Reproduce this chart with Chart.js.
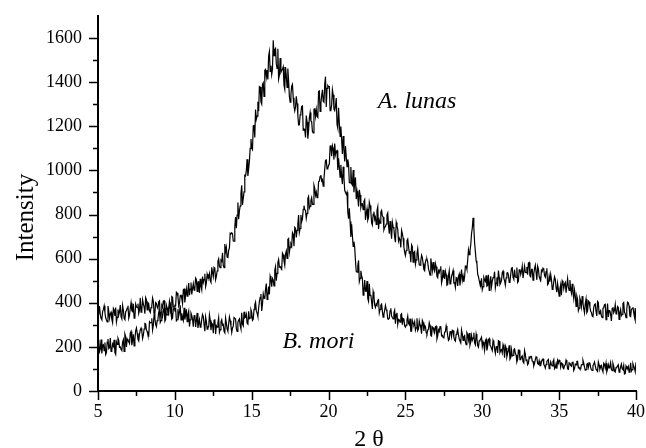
<!DOCTYPE html>
<html>
<head>
<meta charset="utf-8">
<script src="https://cdn.jsdelivr.net/npm/chart.js@4.4.1/dist/chart.umd.min.js"></script>
<style>
  html, body { margin: 0; padding: 0; background: #fff; }
  #wrap { width: 646px; height: 448px; }
</style>
</head>
<body>
<div id="wrap"><canvas id="xrd" width="646" height="448"></canvas></div>
<script>
// scan grid: 5 to 40 degrees, 0.05 degree step
const startAngle = 5;
const stepAngle = 0.05;

// A. lunas intensities (5.00 .. 40.00)
const aLunas = [
  217,232,179,190,233,170,207,210,183,220,165,174,222,236,192,196,240,179,185,213,
  203,232,174,166,222,211,239,229,198,200,188,183,222,233,180,259,247,200,236,229,
  225,216,262,270,208,229,257,204,234,273,286,262,235,227,258,277,285,271,238,254,
  281,306,304,277,270,253,250,314,309,310,330,276,298,347,330,302,292,319,326,357,
  365,311,319,348,338,366,377,317,324,388,375,361,350,387,395,353,428,425,381,380,
  388,386,448,444,428,385,396,432,434,419,396,459,462,401,436,463,430,458,489,434,
  462,492,438,464,486,457,464,512,506,451,494,495,445,509,475,458,519,492,506,531,
  473,489,530,516,513,532,500,492,561,537,518,560,555,505,520,544,588,599,565,559,
  593,588,627,570,559,666,632,651,607,605,637,649,715,712,717,713,680,679,742,789,
  738,797,854,779,816,839,895,933,844,874,903,978,976,999,1051,975,1007,1042,1100,1142,
  1100,1094,1202,1204,1149,1276,1232,1246,1311,1268,1380,1378,1311,1301,1390,1397,1336,1454,1458,1424,
  1455,1412,1518,1538,1449,1475,1434,1458,1590,1520,1547,1553,1484,1463,1551,1414,1432,1509,1445,1454,
  1458,1469,1386,1368,1469,1429,1376,1462,1406,1335,1309,1344,1382,1390,1329,1291,1270,1288,1336,1303,
  1250,1206,1207,1252,1262,1290,1292,1182,1188,1186,1149,1249,1220,1144,1181,1237,1262,1224,1221,1176,
  1170,1278,1279,1245,1276,1244,1240,1358,1360,1267,1303,1338,1365,1313,1309,1391,1425,1288,1372,1385,
  1380,1380,1271,1273,1297,1366,1343,1278,1271,1293,1328,1209,1192,1284,1212,1154,1199,1139,1074,1156,
  1097,1041,1111,1061,1017,1050,1028,945,943,1015,939,933,1002,901,947,968,870,906,879,837,
  912,889,832,848,849,822,860,868,775,804,826,775,786,856,841,814,762,752,801,813,
  777,788,755,818,835,734,774,761,811,819,793,789,731,742,745,757,798,807,752,713,
  770,729,690,765,744,735,697,675,764,748,733,680,693,685,651,728,713,693,654,630,
  614,637,682,689,656,627,630,584,662,654,584,628,632,574,594,622,645,603,572,570,
  588,616,606,578,550,545,584,597,598,584,555,541,525,601,574,545,585,551,542,578,
  563,520,514,545,537,551,565,490,507,549,514,511,543,527,480,483,521,545,486,490,
  521,532,546,490,491,470,514,510,476,520,530,479,515,551,502,521,495,517,567,566,
  552,594,640,618,635,663,713,739,785,740,672,632,590,578,530,518,500,484,478,511,
  459,473,515,504,497,524,475,478,527,456,489,520,473,497,514,516,541,468,489,515,
  475,546,515,483,491,501,537,543,511,500,480,513,535,537,525,492,495,528,557,559,
  515,506,550,518,515,560,492,498,549,552,528,543,566,512,512,566,538,537,562,527,
  580,583,522,518,551,551,502,531,556,571,537,504,566,554,518,508,501,547,542,557,
  552,523,516,541,556,482,487,520,496,529,505,461,466,495,518,506,467,448,488,460,
  430,463,482,434,500,492,464,485,492,446,446,509,472,456,503,463,444,486,444,418,
  458,432,384,430,415,364,376,421,408,382,430,398,373,354,395,417,355,362,408,404,
  381,361,356,340,337,379,392,395,360,340,406,401,349,359,365,340,333,374,378,391,
  393,323,349,396,336,364,365,346,318,374,380,355,365,392,350,355,383,379,325,356,
  370,342,348,397,401,357,350,333,373,403,400,385,340,337,370,374,380,356,335,376,
  305
];

// B. mori intensities (5.00 .. 40.00)
const bMori = [
  350,384,382,346,330,323,360,370,386,356,332,322,313,385,362,329,349,357,324,309,
  375,368,340,378,313,334,370,345,359,390,336,327,388,366,330,324,360,364,376,387,
  330,344,375,400,364,360,395,330,334,394,382,378,396,352,367,422,357,369,414,395,
  380,350,423,414,368,401,396,363,356,378,386,422,407,354,351,401,398,381,374,405,
  409,339,356,389,381,407,409,356,359,346,345,375,375,407,384,353,326,331,371,376,
  368,373,318,323,371,340,357,389,322,352,332,319,377,324,344,370,314,347,362,292,
  323,353,343,325,292,341,344,290,319,354,286,307,324,290,294,326,347,337,302,271,
  336,316,280,291,291,345,321,276,308,303,262,320,325,258,296,290,309,332,266,278,
  313,323,299,302,271,264,331,308,281,271,305,336,319,294,265,286,295,333,333,326,
  283,270,311,321,327,296,281,355,303,295,359,332,335,348,307,303,361,328,331,368,
  356,320,325,370,392,403,362,353,338,375,406,424,440,363,394,440,421,420,462,487,
  415,433,473,438,521,507,473,510,503,476,547,564,500,533,582,596,562,564,557,552,
  625,618,590,570,621,635,601,687,691,629,652,666,656,718,710,656,742,738,696,728,
  756,798,719,737,798,767,779,824,840,821,819,783,805,873,882,829,838,863,876,846,
  846,933,919,887,902,877,881,949,951,972,979,952,958,929,962,1006,1045,1047,1007,1009,
  1023,1029,1109,1114,1064,1112,1099,1049,1122,1072,1087,1090,1002,1055,1016,969,1025,971,938,1017,
  969,910,900,892,901,812,781,828,768,698,756,704,656,677,651,590,542,539,566,592,
  496,511,545,522,510,434,454,503,453,453,498,419,407,486,433,436,405,372,450,432,
  390,379,395,389,411,414,354,370,389,394,362,335,347,366,388,370,360,327,325,330,
  363,375,340,333,327,354,366,305,348,355,302,325,322,312,346,350,301,329,326,296,
  290,299,322,340,307,301,328,271,271,319,306,301,314,275,286,330,274,282,318,300,
  286,260,320,311,272,298,293,265,258,275,281,310,297,252,249,290,287,272,266,291,
  294,236,250,277,270,292,293,250,252,242,241,267,268,295,277,251,229,234,268,272,
  247,276,274,245,231,226,257,266,279,255,235,226,218,277,258,229,246,251,224,210,
  265,257,233,263,208,223,252,230,240,264,218,209,258,238,206,199,227,229,237,244,
  202,222,210,184,228,235,184,202,232,237,207,203,192,183,229,218,191,171,200,204,
  173,228,225,175,185,188,173,210,197,151,205,195,156,172,183,207,144,151,187,159,
  161,187,191,172,163,132,142,185,185,142,142,155,159,132,127,183,167,138,143,119,
  125,154,151,157,156,136,134,114,125,142,155,151,125,121,137,115,115,134,142,145,
  121,115,104,121,134,139,143,101,113,132,119,114,133,142,101,106,123,101,138,126,
  140,135,108,127,124,105,101,114,119,140,131,100,98,128,126,116,112,130,133,93,
  102,122,118,134,135,105,107,100,100,119,120,139,126,108,94,97,121,124,107,128,
  126,106,97,93,115,121,131,114,99,94,89,131,118,99,110,115,96,87,126,121,
  104,126,87,99,120,105,112,129,98,92,126,113,90,86,106,108,114,119,85,92,
  109,122,101,97,116,77,79,113,104,101,111,86,95,128,90,97,124,113,104,88,
  130
];

const yMajor = [0, 200, 400, 600, 800, 1000, 1200, 1400, 1600];
const yMinor = [100, 300, 500, 700, 900, 1100, 1300, 1500];
const xMajor = [5, 10, 15, 20, 25, 30, 35, 40];
const xMinor = [7.5, 12.5, 17.5, 22.5, 27.5, 32.5, 37.5];

const twoTheta = aLunas.map((v, i) => +(startAngle + i * stepAngle).toFixed(2));

const serif = '"Liberation Serif", "Times New Roman", serif';

// ticks pointing outward, axis titles, labels for the two samples
const decor = {
  id: 'decor',
  afterDraw(chart) {
    const c = chart.ctx;
    const x = chart.scales.x, y = chart.scales.y;
    c.save();
    c.strokeStyle = '#000';
    c.lineWidth = 1.5;
    c.beginPath();
    yMajor.forEach(v => { const p = Math.round(y.getPixelForValue(v)) + 0.5; c.moveTo(x.left - 9, p); c.lineTo(x.left, p); });
    yMinor.forEach(v => { const p = Math.round(y.getPixelForValue(v)) + 0.5; c.moveTo(x.left - 5, p); c.lineTo(x.left, p); });
    xMajor.forEach(v => { const p = Math.round(x.getPixelForValue(v)) + 0.5; c.moveTo(p, y.bottom); c.lineTo(p, y.bottom + 9); });
    xMinor.forEach(v => { const p = Math.round(x.getPixelForValue(v)) + 0.5; c.moveTo(p, y.bottom); c.lineTo(p, y.bottom + 5); });
    c.stroke();

    c.fillStyle = '#000';
    c.textBaseline = 'alphabetic';

    // axis titles
    c.font = '24px ' + serif;
    c.textAlign = 'center';
    c.fillText('2 θ', (x.left + x.right) / 2 + 2, 446);
    c.save();
    c.translate(33, (y.top + y.bottom) / 2 + 14);
    c.rotate(-Math.PI / 2);
    c.font = '25px ' + serif;
    c.fillText('Intensity', 0, 0);
    c.restore();

    c.textAlign = 'left';
    c.font = 'italic 24px ' + serif;
    c.fillText('A. lunas', x.getPixelForValue(23.2), y.getPixelForValue(1283));
    c.fillText('B. mori', x.getPixelForValue(17.0), y.getPixelForValue(195));
    c.restore();
  }
};

new Chart(document.getElementById('xrd'), {
  type: 'line',
  data: {
    datasets: [
      {
        label: 'A. lunas',
        data: twoTheta.map((t, i) => ({ x: t, y: aLunas[i] })),
        borderColor: '#000',
        borderWidth: 1.2,
        pointRadius: 0,
        tension: 0
      },
      {
        label: 'B. mori',
        data: twoTheta.map((t, i) => ({ x: t, y: bMori[i] })),
        borderColor: '#000',
        borderWidth: 1.2,
        pointRadius: 0,
        tension: 0
      }
    ]
  },
  options: {
    responsive: false,
    animation: false,
    layout: { padding: { top: 16, right: 10, left: 0, bottom: 0 } },
    plugins: { legend: { display: false }, tooltip: { enabled: false } },
    scales: {
      x: {
        type: 'linear',
        min: 5,
        max: 40,
        afterFit(s) { s.height = 57; s.paddingLeft = 0; s.paddingRight = 0; },
        afterBuildTicks(s) { s.ticks = xMajor.map(v => ({ value: v })); },
        grid: { display: false, drawTicks: false },
        border: { display: true, color: '#000', width: 2 },
        ticks: { color: '#000', padding: 10, maxRotation: 0, font: { family: serif, size: 18 }, callback: v => String(v) },
        title: { display: false }
      },
      y: {
        min: 0,
        max: 1700,
        afterFit(s) { s.width = 98; s.paddingTop = 0; s.paddingBottom = 0; },
        afterBuildTicks(s) { s.ticks = yMajor.map(v => ({ value: v })); },
        grid: { display: false, drawTicks: false },
        border: { display: true, color: '#000', width: 2 },
        ticks: { color: '#000', padding: 16, font: { family: serif, size: 18 }, callback: v => String(v) },
        title: { display: false }
      }
    }
  },
  plugins: [decor]
});
</script>
</body>
</html>
